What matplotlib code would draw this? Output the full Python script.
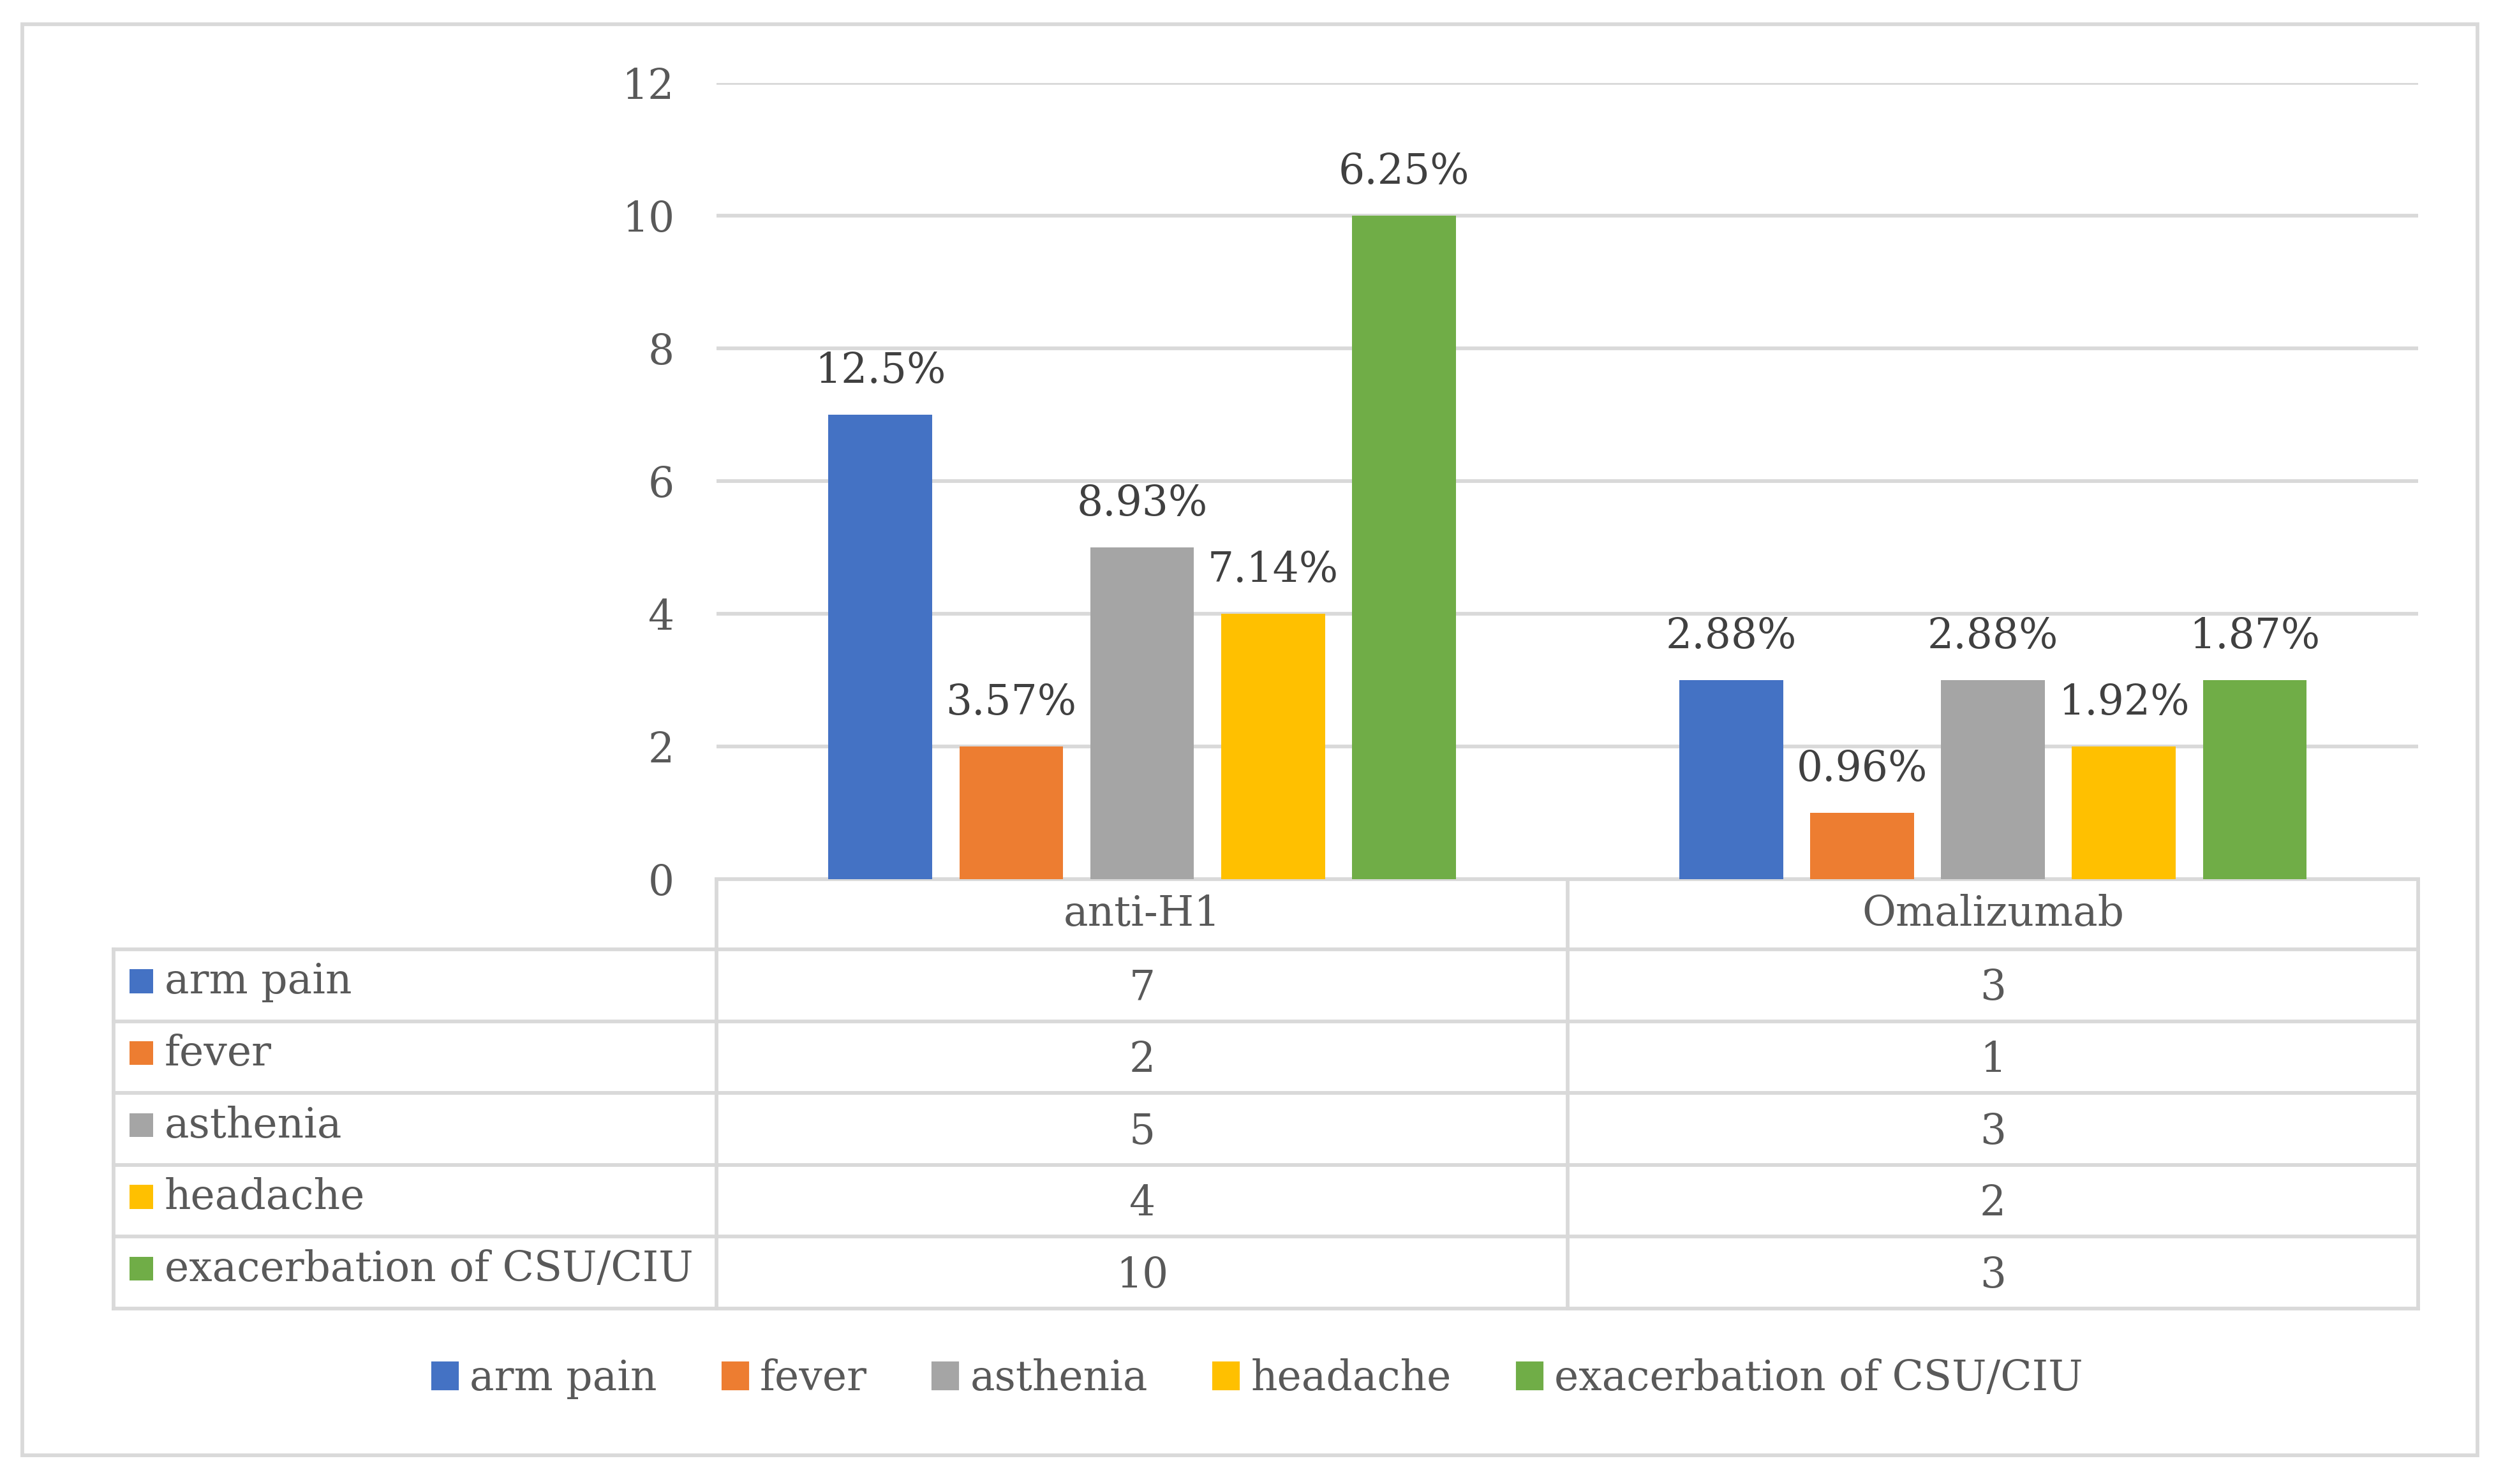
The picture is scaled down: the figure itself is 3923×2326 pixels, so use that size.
import matplotlib
matplotlib.use("Agg")
import matplotlib.pyplot as plt
from matplotlib.patches import Rectangle
from matplotlib.lines import Line2D

# Data
groups = ["anti-H1", "Omalizumab"]
effects = ["arm pain", "fever", "asthenia", "headache", "exacerbation of CSU/CIU"]
counts = {
    "arm pain": [7, 3],
    "fever": [2, 1],
    "asthenia": [5, 3],
    "headache": [4, 2],
    "exacerbation of CSU/CIU": [10, 3],
}
pct_labels = {
    "arm pain": ["12.5%", "2.88%"],
    "fever": ["3.57%", "0.96%"],
    "asthenia": ["8.93%", "2.88%"],
    "headache": ["7.14%", "1.92%"],
    "exacerbation of CSU/CIU": ["6.25%", "1.87%"],
}
colors = ["#4472C4", "#ED7D31", "#A5A5A5", "#FFC000", "#70AD47"]
yticks = [0, 2, 4, 6, 8, 10, 12]

FONT = "DejaVu Serif"
FS = 15.5
TXT = "#595959"
GRID = "#D9D9D9"
W, H = 1568, 930  # layout grid used for placing things

plt.rcParams["font.family"] = FONT

fig = plt.figure(figsize=(3923 / 300, 2326 / 300), dpi=300)

# overlay axes in layout pixels for border and data table
ov = fig.add_axes([0, 0, 1, 1])
ov.set_xlim(0, W)
ov.set_ylim(H, 0)
ov.axis("off")
ov.add_patch(Rectangle((14, 15), 1538, 897, fill=False, ec=GRID, lw=1.4))

# bar chart
ax = fig.add_axes([449 / W, 1 - 551 / H, (1515 - 449) / W, (551 - 52) / H])
ax.set_zorder(2)
ax.patch.set_alpha(0)
ax.set_xlim(-0.5, len(groups) - 0.5)
ax.set_ylim(0, 12)
ax.set_yticks(yticks)
ax.set_xticks([])
ax.tick_params(axis="y", length=0, pad=16, labelsize=FS, labelcolor=TXT)
for s in ax.spines.values():
    s.set_visible(False)
ax.yaxis.grid(True, color=GRID, lw=1.4)
ax.set_axisbelow(True)

bw = 65 / 533
step = 82 / 533
n = len(effects)
for i, eff in enumerate(effects):
    xs = [g + (i - (n - 1) / 2) * step for g in range(len(groups))]
    bars = ax.bar(xs, counts[eff], width=bw, color=colors[i], zorder=3)
    for b, lab in zip(bars, pct_labels[eff]):
        ax.annotate(lab, (b.get_x() + b.get_width() / 2, b.get_height()),
                    xytext=(0, 12), textcoords="offset points",
                    ha="center", va="baseline", fontsize=FS, color="#404040")

# data table under the chart
col_x = [71, 449, 982, 1515]
row_y = [551, 595, 640, 685, 730, 775, 820]
lw_t = 1.4
ov.add_line(Line2D([449, 1515], [row_y[0], row_y[0]], color=GRID, lw=lw_t))
for y in row_y[1:]:
    ov.add_line(Line2D([71, 1515], [y, y], color=GRID, lw=lw_t))
ov.add_line(Line2D([71, 71], [row_y[1], row_y[-1]], color=GRID, lw=lw_t))
for x in col_x[1:]:
    ov.add_line(Line2D([x, x], [row_y[0], row_y[-1]], color=GRID, lw=lw_t))

for j, g in enumerate(groups):
    cx = (col_x[j + 1] + col_x[j + 2]) / 2
    ov.text(cx, (row_y[0] + row_y[1]) / 2, g, ha="center", va="center",
            fontsize=FS, color=TXT)
for i, eff in enumerate(effects):
    cy = (row_y[i + 1] + row_y[i + 2]) / 2
    ov.add_patch(Rectangle((81, cy - 10), 15, 15, color=colors[i], lw=0))
    ov.text(103, cy - 2, eff, ha="left", va="center", fontsize=FS, color=TXT)
    for j in range(len(groups)):
        cx = (col_x[j + 1] + col_x[j + 2]) / 2
        ov.text(cx, cy + 2, str(counts[eff][j]), ha="center", va="center",
                fontsize=FS, color=TXT)

# legend at bottom
handles = [Rectangle((0, 0), 1, 1, color=c) for c in colors]
fig.legend(handles, effects, loc="center", bbox_to_anchor=(788 / W, 1 - 864 / H),
           ncol=5, frameon=False, fontsize=FS, labelcolor=TXT,
           handlelength=0.6, handleheight=0.6, handletextpad=0.3, columnspacing=1.6)

fig.savefig("out.png", dpi=300)
